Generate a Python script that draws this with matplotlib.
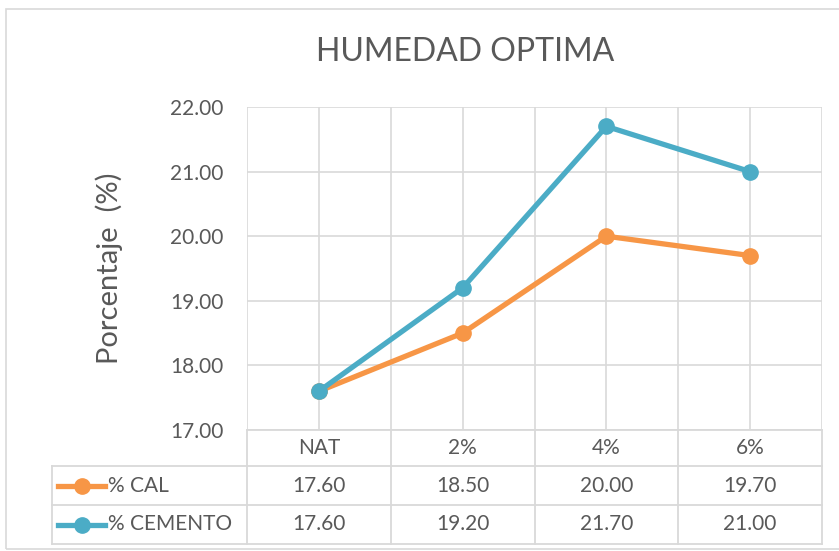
import numpy as np
import matplotlib
matplotlib.use('Agg')
import matplotlib.pyplot as plt
from matplotlib.lines import Line2D
from matplotlib.patches import Rectangle

# datos
categorias = ['NAT', '2%', '4%', '6%']
cal = [17.60, 18.50, 20.00, 19.70]
cemento = [17.60, 19.20, 21.70, 21.00]
series = ['% CAL', '% CEMENTO']
valores = [cal, cemento]
colores = ['#F79646', '#4BACC6']

plt.rcParams['font.family'] = ['Lato', 'DejaVu Sans']
gris_txt = '#595959'
gris_lin = '#D9D9D9'

W, H = 839, 551
fig = plt.figure(figsize=(W/100, H/100), dpi=100)

# posiciones en pixeles
px_l, px_r, px_t, px_b = 247, 822, 107, 430
ax = fig.add_axes([px_l/W, 1-px_b/H, (px_r-px_l)/W, (px_b-px_t)/H])

x = np.arange(len(categorias))
for nombre, v, c in zip(series, valores, colores):
    ax.plot(x, v, '-o', color=c, linewidth=3.8, markersize=11, label=nombre,
            solid_capstyle='round', zorder=3)

ax.set_xlim(-0.5, len(categorias)-0.5)
ax.set_ylim(17, 22)
ax.set_yticks(np.arange(17, 22.01, 1))
ax.set_yticklabels(['%.2f' % t for t in np.arange(17, 22.01, 1)])
ax.set_xticks(np.arange(-0.5, len(categorias), 0.5))
ax.set_xticklabels([])
ax.grid(True, color=gris_lin, linewidth=1.2)
ax.tick_params(length=0, labelsize=15, labelcolor=gris_txt, pad=17)
for s in ax.spines.values():
    s.set_visible(False)
ax.set_axisbelow(True)

ax.set_ylabel('Porcentaje  (%)', fontsize=21, color=gris_txt, labelpad=34)
fig.text(465/W, 1-52/H, 'HUMEDAD OPTIMA', fontsize=23, color=gris_txt,
         ha='center', va='center')

# tabla de datos
def fy(p):
    return 1 - p/H

def fx(p):
    return p/W

filas = [430, 466, 505, 544]
tab_l = 52
cw = (px_r - px_l) / len(categorias)
bordes = [px_l + i*cw for i in range(len(categorias)+1)]

def linea(x0, x1, y0, y1):
    fig.add_artist(Line2D([fx(x0), fx(x1)], [fy(y0), fy(y1)], color=gris_lin,
                          linewidth=1.3, transform=fig.transFigure))

for yy in filas:
    linea(px_l if yy == filas[0] else tab_l, px_r, yy, yy)
linea(tab_l, tab_l, filas[1], filas[3])
for bx in bordes:
    linea(bx, bx, filas[0], filas[3])

for i, cat in enumerate(categorias):
    cx = (bordes[i] + bordes[i+1]) / 2
    fig.text(fx(cx), fy((filas[0]+filas[1])/2), cat, fontsize=15, color=gris_txt,
             ha='center', va='center')
    for j, v in enumerate(valores):
        fig.text(fx(cx), fy((filas[j+1]+filas[j+2])/2), '%.2f' % v[i], fontsize=15,
                 color=gris_txt, ha='center', va='center')

for j, (nombre, c) in enumerate(zip(series, colores)):
    yc = fy((filas[j+1]+filas[j+2])/2)
    fig.add_artist(Line2D([fx(58), fx(105)], [yc, yc], color=c, linewidth=3.8,
                          transform=fig.transFigure))
    fig.add_artist(Line2D([fx(82)], [yc], marker='o', color=c, markersize=11,
                          transform=fig.transFigure))
    fig.text(fx(108), yc, nombre, fontsize=15, color=gris_txt, ha='left', va='center')

# borde del grafico
fig.add_artist(Rectangle((fx(6), fy(549)), fx(860), fy(9)-fy(549), fill=False,
                         edgecolor=gris_lin, linewidth=1.2, transform=fig.transFigure))

fig.savefig('out.png', dpi=100)
